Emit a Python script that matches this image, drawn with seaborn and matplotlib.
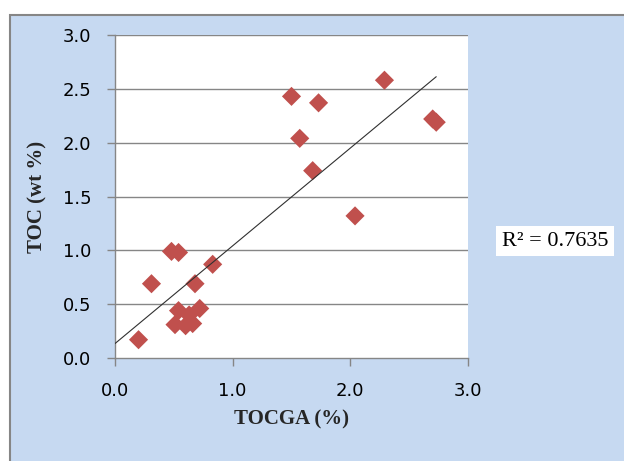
import numpy as np
import pandas as pd
import matplotlib
matplotlib.use("Agg")
import matplotlib.pyplot as plt
from matplotlib.patches import Rectangle
import seaborn as sns

# TOCGA (%) vs TOC (wt %)
tocga = [0.20, 0.31, 0.48, 0.54, 0.51, 0.60, 0.66, 0.63, 0.54, 0.72,
         0.68, 0.83, 1.50, 1.73, 2.29, 1.57, 1.68, 2.04, 2.70, 2.73]
toc = [0.17, 0.69, 0.99, 0.98, 0.31, 0.30, 0.32, 0.40, 0.44, 0.46,
       0.69, 0.87, 2.43, 2.37, 2.58, 2.04, 1.74, 1.32, 2.22, 2.19]
ticks = [0.0, 0.5, 1.0, 1.5, 2.0, 2.5, 3.0]
xticks = [0.0, 1.0, 2.0, 3.0]
r2_label = "R\u00b2 = 0.7635"

df = pd.DataFrame({"TOCGA": tocga, "TOC": toc})

sns.set_theme(style="white")
plt.rcParams["font.family"] = ["DejaVu Sans"]

blue = "#c6d9f1"
grey = "#868686"

fig = plt.figure(figsize=(6.24, 4.61), dpi=100)
fig.patch.set_facecolor("white")
# chart area (blue panel with grey border)
fig.patches.append(Rectangle((10 / 624, -0.1), 1.2, 1 - 15 / 461 + 0.1,
                             transform=fig.transFigure, facecolor=blue,
                             edgecolor=grey, linewidth=1.5, zorder=0))

ax = fig.add_axes([115 / 624, 1 - 358 / 461, (468 - 115) / 624, (358 - 35) / 461])
ax.set_zorder(2)
ax.set_facecolor("white")

for t in ticks[1:]:
    ax.axhline(t, color=grey, lw=1, zorder=1)

sns.scatterplot(data=df, x="TOCGA", y="TOC", marker="D", s=95, color="#c0504d",
                edgecolor="none", linewidth=0, ax=ax, zorder=3)

# linear trendline
k, b = np.polyfit(df["TOCGA"], df["TOC"], 1)
xs = np.array([0.0, df["TOCGA"].max()])
ax.plot(xs, k * xs + b, color="#303030", lw=0.8, zorder=4)

ax.set_xlim(0, 3)
ax.set_ylim(0, 3)
ax.set_xticks(xticks)
ax.set_yticks(ticks)
ax.set_xticklabels(["%.1f" % v for v in xticks])
ax.set_yticklabels(["%.1f" % v for v in ticks])
ax.tick_params(axis="both", direction="out", length=6, width=1, color=grey,
               labelsize=13, pad=11, labelcolor="black")
ax.tick_params(axis="x", bottom=True)
ax.tick_params(axis="y", left=True)

for side in ["top", "right"]:
    ax.spines[side].set_visible(False)
for side in ["left", "bottom"]:
    ax.spines[side].set_color(grey)
    ax.spines[side].set_linewidth(1)

ax.set_xlabel("TOCGA (%)", family="Liberation Serif", fontweight="bold", fontsize=15)
ax.set_ylabel("TOC (wt %)", family="Liberation Serif", fontweight="bold", fontsize=15)
ax.xaxis.set_label_coords(0.5, (358 - 409) / 323)
ax.yaxis.set_label_coords((47 - 115) / 353, 0.5)

fig.text(555 / 624, 1 - 241 / 461, r2_label, family="Liberation Serif", fontsize=16,
         ha="center", va="center", color="black",
         bbox=dict(facecolor="white", edgecolor="none", pad=4))

fig.savefig("out.png", dpi=100, facecolor=fig.get_facecolor())
